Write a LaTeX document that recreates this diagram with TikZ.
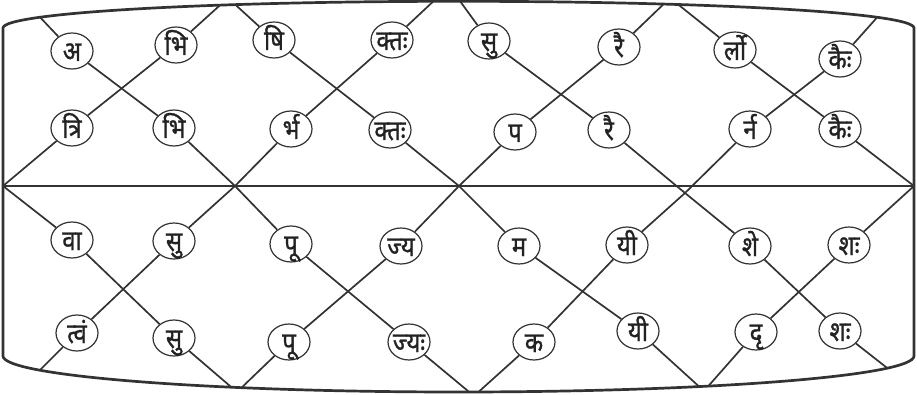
\documentclass[tikz,border=0pt]{standalone}
\usepackage{fontspec}
\newfontfamily\deva[Script=Devanagari,FakeStretch=0.85,FakeBold=1]{Noto Sans}
\usetikzlibrary{shapes.geometric}
\definecolor{ink}{HTML}{333333}
\definecolor{txt}{HTML}{222222}
\newcommand{\sylb}[1]{\makebox[0pt][c]{#1}}
\begin{document}
\begin{tikzpicture}[x=1pt,y=-1pt,
  syl/.style={ellipse, draw=ink, line width=1.2pt, fill=white,
    minimum width=42pt, minimum height=36pt, inner sep=0pt,
    text height=20pt, text depth=0pt,
    font=\deva\fontsize{28}{28}\selectfont, text=txt},
  lat/.style={draw=ink, line width=1.7pt},
  frm/.style={draw=ink, line width=2.7pt}]
\useasboundingbox (0,0) rectangle (917,395);
% row 1
\node[syl] (n11) at (72,51)  {\sylb{अ}};
\node[syl] (n12) at (176,45) {\sylb{भि}};
\node[syl] (n13) at (274,40) {\sylb{षि}};
\node[syl] (n14) at (392,40) {\sylb{क्तः}};
\node[syl] (n15) at (489,41) {\sylb{सु}};
\node[syl] (n16) at (619,47) {\sylb{रै}};
\node[syl] (n17) at (735,50) {\sylb{र्लो}};
\node[syl] (n18) at (840,59) {\sylb{कैः}};
% row 2
\node[syl] (n21) at (72,128)  {\sylb{त्रि}};
\node[syl] (n22) at (174,128) {\sylb{भि}};
\node[syl] (n23) at (291,129) {\sylb{र्भ}};
\node[syl] (n24) at (390,130) {\sylb{क्तः}};
\node[syl] (n25) at (515,132) {\sylb{प}};
\node[syl] (n26) at (609,130) {\sylb{रै}};
\node[syl] (n27) at (750,129) {\sylb{र्न}};
\node[syl] (n28) at (840,129) {\sylb{कैः}};
% row 3
\node[syl] (n31) at (72,240)  {\sylb{वा}};
\node[syl] (n32) at (174,241) {\sylb{सु}};
\node[syl] (n33) at (291,244) {\sylb{पू}};
\node[syl] (n34) at (401,246) {\sylb{ज्य}};
\node[syl] (n35) at (519,246) {\sylb{म}};
\node[syl] (n36) at (627,245) {\sylb{यी}};
\node[syl] (n37) at (750,246) {\sylb{शे}};
\node[syl] (n38) at (849,245) {\sylb{शः}};
% row 4
\node[syl] (n41) at (77,333)  {\sylb{त्वं}};
\node[syl] (n42) at (174,338) {\sylb{सु}};
\node[syl] (n43) at (289,342) {\sylb{पू}};
\node[syl] (n44) at (409,342) {\sylb{ज्यः}};
\node[syl] (n45) at (534,342) {\sylb{क}};
\node[syl] (n46) at (638,331) {\sylb{यी}};
\node[syl] (n47) at (756,332) {\sylb{दृ}};
\node[syl] (n48) at (840,331) {\sylb{शः}};
% lattice points
\coordinate (M0) at (3,186);
\coordinate (M1) at (235,186);
\coordinate (M2) at (459,186);
\coordinate (M3) at (685,193);
\coordinate (M4) at (914,186);
\coordinate (TA) at (36,13);
\coordinate (T1) at (228,-2);
\coordinate (TP) at (438,-3);
\coordinate (TC) at (457,-3);
\coordinate (T2) at (670,-2);
\coordinate (TS) at (881,13);
\coordinate (B1) at (36,374);
\coordinate (B2) at (237,392);
\coordinate (B3) at (474,396);
\coordinate (B4) at (704,391);
\coordinate (B5) at (891,371);
\begin{scope}
\clip (3,28) -- (3,356) .. controls (3,375.9) and (207.1,392) .. (458.5,392)
  .. controls (709.9,392) and (914,375.9) .. (914,356) -- (914,28)
  .. controls (914,12.8) and (709.9,1.3) .. (458.5,1.3)
  .. controls (207.1,1.3) and (3,12.8) .. (3,28) -- cycle;
% upper half
\draw[lat] (M0) -- (n21) -- (n12) -- (T1);
\draw[lat] (TA) -- (n11) -- (n22) -- (M1);
\draw[lat] (M1) -- (n23) -- (n14) -- (TP);
\draw[lat] (T1) -- (n13) -- (n24) -- (M2);
\draw[lat] (M2) -- (n25) -- (n16) -- (T2);
\draw[lat] (TC) -- (n15) -- (n26) -- (M3);
\draw[lat] (M3) -- (n27) -- (n18) -- (TS);
\draw[lat] (T2) -- (n17) -- (n28) -- (M4);
% lower half
\draw[lat] (M0) -- (n31) -- (n42) -- (B2);
\draw[lat] (M1) -- (n33) -- (n44) -- (B3);
\draw[lat] (M2) -- (n35) -- (n46) -- (B4);
\draw[lat] (M3) -- (n37) -- (n48) -- (B5);
\draw[lat] (B1) -- (n41) -- (n32) -- (M1);
\draw[lat] (B2) -- (n43) -- (n34) -- (M2);
\draw[lat] (B3) -- (n45) -- (n36) -- (M3);
\draw[lat] (B4) -- (n47) -- (n38) -- (M4);
\end{scope}
% frame
\draw[frm] (3,28) -- (3,356) .. controls (3,375.9) and (207.1,392) .. (458.5,392)
  .. controls (709.9,392) and (914,375.9) .. (914,356) -- (914,28)
  .. controls (914,12.8) and (709.9,1.3) .. (458.5,1.3)
  .. controls (207.1,1.3) and (3,12.8) .. (3,28) -- cycle;
\draw[frm] (M0) -- (M4);
\end{tikzpicture}
\end{document}
